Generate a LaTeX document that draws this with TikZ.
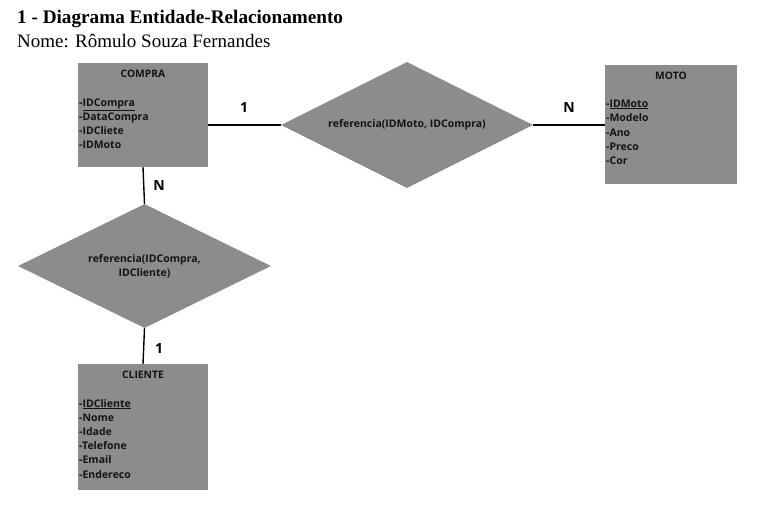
\documentclass[tikz,border=0pt]{standalone}
\usepackage{fontspec}
\setmainfont{Liberation Serif}
\newfontfamily\erfont{Open Sans}
\usetikzlibrary{shapes.geometric}
\definecolor{boxgray}{RGB}{140,140,140}
\definecolor{txt}{RGB}{20,20,20}
\tikzset{
  entity/.style={draw=none, fill=boxgray, rectangle, inner sep=0pt},
  rel/.style={diamond, shape aspect=2, fill=boxgray, draw=none, inner sep=0pt, align=center,
    font=\erfont\bfseries\fontsize{10.5}{14}\selectfont, text=txt},
  etitle/.style={font=\erfont\bfseries\fontsize{10.3}{10}\selectfont, text=txt, inner sep=0pt, anchor=base},
  attr/.style={font=\erfont\bfseries\fontsize{10.5}{10}\selectfont, text=txt, inner sep=0pt, anchor=base west},
  card/.style={font=\erfont\bfseries\fontsize{14}{16}\selectfont, text=black, inner sep=0pt, anchor=base},
  conn/.style={draw=black, line width=1.4pt},
  hdr/.style={inner sep=0pt, anchor=base west, text=black}
}
\begin{document}
\begin{tikzpicture}[x=1pt,y=-1pt]
\useasboundingbox (0,0) rectangle (775,514);
\node[hdr, font=\bfseries\fontsize{19.2}{22}\selectfont] (title) at (17,23) {1 - Diagrama Entidade-Relacionamento};
\node[hdr, font=\fontsize{19}{22}\selectfont] (name) at (17,47) {Nome: Rômulo Souza Fernandes};

% entities
\node[entity, minimum width=130, minimum height=104] (compra) at (143,115) {};
\node[entity, minimum width=132, minimum height=119] (moto) at (671,124.5) {};
\node[entity, minimum width=130, minimum height=126] (cliente) at (143,427) {};

% relationships
\node[rel, minimum width=252, minimum height=126] (r1) at (407,125) {referencia(IDMoto, IDCompra)};
\node[rel, minimum width=253, minimum height=124] (r2) at (144.5,266) {referencia(IDCompra,\\IDCliente)};

% connectors
\draw[conn] (compra.east |- r1.west) -- (r1.west);
\draw[conn] (r1.east) -- (moto.west |- r1.east);
\draw[conn] (compra.south) -- (r2.north);
\draw[conn] (r2.south) -- (cliente.north);

% cardinalities
\node[card] (c1) at (244,112) {1};
\node[card] (c2) at (569,112) {N};
\node[card] (c3) at (159,190) {N};
\node[card] (c4) at (159,353) {1};

% COMPRA
\node[etitle] (ct) at (143,77) {COMPRA};
\node[attr] (ca1) at (79,106) {-\underline{IDCompra}};
\node[attr] (ca2) at (79,120) {-DataCompra};
\node[attr] (ca3) at (79,134) {-IDCliete};
\node[attr] (ca4) at (79,148) {-IDMoto};

% MOTO
\node[etitle] (mt) at (671,79) {MOTO};
\node[attr] (ma1) at (606,107) {-\underline{IDMoto}};
\node[attr] (ma2) at (606,121) {-Modelo};
\node[attr] (ma3) at (606,136) {-Ano};
\node[attr] (ma4) at (606,150) {-Preco};
\node[attr] (ma5) at (606,164) {-Cor};

% CLIENTE
\node[etitle] (clt) at (143,378) {CLIENTE};
\node[attr] (cl1) at (79,407) {-\underline{IDCliente}};
\node[attr] (cl2) at (79,421) {-Nome};
\node[attr] (cl3) at (79,435) {-Idade};
\node[attr] (cl4) at (79,449) {-Telefone};
\node[attr] (cl5) at (79,463) {-Email};
\node[attr] (cl6) at (79,478) {-Endereco};
\end{tikzpicture}
\end{document}
